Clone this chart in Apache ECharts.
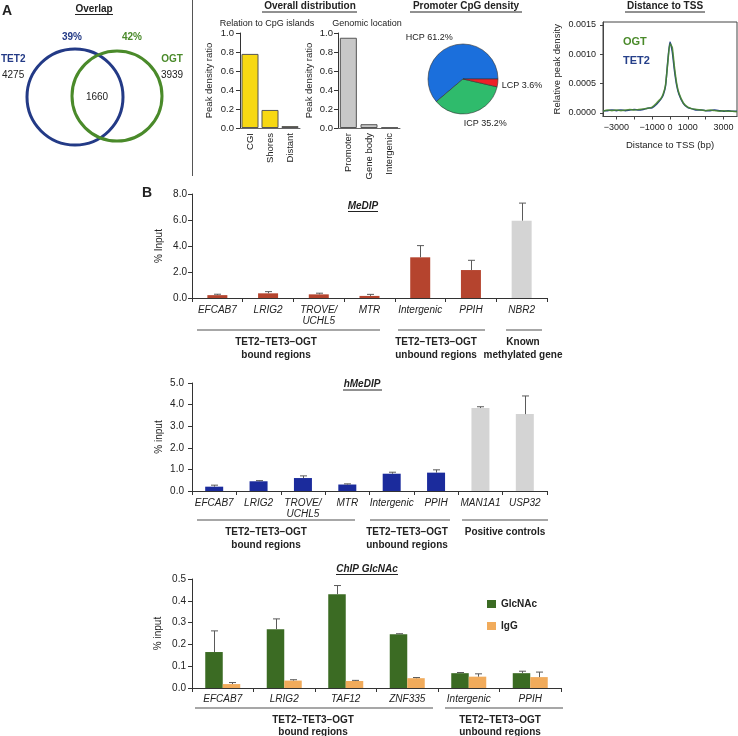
<!DOCTYPE html>
<html><head><meta charset="utf-8">
<script src="https://cdn.jsdelivr.net/npm/echarts@6/dist/echarts.min.js"></script>
<style>html,body{margin:0;padding:0;background:#fff}#c{width:738px;height:736px}</style>
</head><body><div id="c"></div>
<script>
// ---------------- DATA ----------------
const vennTET2Only = 4275, vennOGTOnly = 3939, vennShared = 1660;
const vennTET2Pct = '39%', vennOGTPct = '42%';

const cpgCats = ['CGI', 'Shores', 'Distant'];
const cpgVals = [0.78, 0.19, 0.02];
const genoCats = ['Promoter', 'Gene body', 'Intergenic'];
const genoVals = [0.95, 0.04, 0.005];

const promoterNames = ['HCP', 'ICP', 'LCP'];
const promoterVals = [61.2, 35.2, 3.6];

const tssX    = [-3750,-3500,-3250,-3000,-2750,-2500,-2250,-2000,-1750,-1500,-1250,-1000,-750,-500,-375,-250,-125,0,125,250,375,500,750,1000,1250,1500,1750,2000,2250,2500,2750,3000,3250,3500,3750];
const tssOGT  = [0.00003,0.00005,0.00004,0.00005,0.00004,0.00005,0.00006,0.00005,0.00006,0.00007,0.00008,0.0001,0.00017,0.00025,0.00033,0.00048,0.00085,0.00118,0.00112,0.00078,0.0005,0.00034,0.00017,0.0001,0.00007,0.00006,0.00005,0.00004,0.00005,0.00004,0.00003,0.00004,0.00003,0.00003,0.00002];
const tssTET2 = [0.00004,0.00004,0.00005,0.00004,0.00005,0.00004,0.00005,0.00006,0.00005,0.00006,0.00008,0.00009,0.00015,0.00024,0.00031,0.00046,0.00088,0.00121,0.00105,0.00072,0.00047,0.00032,0.00016,0.00009,0.00007,0.00005,0.00005,0.00004,0.00004,0.00005,0.00004,0.00003,0.00004,0.00003,0.00003];
const tssXTicks = [-3000,-2000,-1000,0,1000,2000,3000];
const tssXLabels = [-3000,-1000,0,1000,3000];
const tssYLabels = [0,0.0005,0.001,0.0015];

const medipCats  = ['EFCAB7','LRIG2','TROVE/\nUCHL5','MTR','Intergenic','PPIH','NBR2'];
const medipVals  = [0.22,0.36,0.28,0.16,3.13,2.15,5.95];
const medipUpper = [0.29,0.49,0.37,0.28,4.03,2.9,7.3];
const medipGroupOf = [0,0,0,0,1,1,2];
const medipGroupNames = ['TET2–TET3–OGT\nbound regions','TET2–TET3–OGT\nunbound regions','Known\nmethylated gene'];

const hmedipCats  = ['EFCAB7','LRIG2','TROVE/\nUCHL5','MTR','Intergenic','PPIH','MAN1A1','USP32'];
const hmedipVals  = [0.2,0.45,0.6,0.3,0.8,0.85,3.84,3.56];
const hmedipUpper = [0.27,0.48,0.7,0.33,0.87,0.98,3.9,4.4];
const hmedipGroupOf = [0,0,0,0,1,1,2,2];
const hmedipGroupNames = ['TET2–TET3–OGT\nbound regions','TET2–TET3–OGT\nunbound regions','Positive controls'];

const glcCats = ['EFCAB7','LRIG2','TAF12','ZNF335','Intergenic','PPIH'];
const glcVals  = [0.165,0.27,0.43,0.247,0.068,0.068];
const glcUpper = [0.262,0.317,0.47,0.249,0.071,0.077];
const iggVals  = [0.018,0.034,0.032,0.045,0.052,0.05];
const iggUpper = [0.025,0.038,0.035,0.048,0.065,0.073];
const glcGroupNames = ['TET2–TET3–OGT\nbound regions','TET2–TET3–OGT\nunbound regions'];

// ---------------- STYLE / LAYOUT ----------------
const FONT = '"Liberation Sans", Arial, Helvetica, sans-serif';
const C = {blue:'#233a86', green:'#4a8a2a', text:'#222', axis:'#333',
  yellow:'#f7d812', grey:'#c8c8c8', lightgrey:'#d4d4d4',
  medip:'#b5442e', hmedip:'#1b2b9c', glc:'#3b6b23', igg:'#f1ab5b',
  hcp:'#1b6fdc', icp:'#2fbb6c', lcp:'#ee2028', ogt:'#4a8a2a', tet2:'#26408a'};
const pieLabelShift = [[11,-3],[-16,5],[-9,2]]; // HCP, ICP, LCP label nudges (px)

function txt(text, x, y, o) {
  o = o || {};
  return {type:'text', silent:true, z:100, style:{text:String(text), x, y, fill:o.color||C.text,
    font:(o.italic?'italic ':'')+(o.bold?'bold ':'')+(o.size||10)+'px '+FONT,
    textAlign:o.align||'center', textVerticalAlign:o.valign||'middle'}};
}
function ln(x1,y1,x2,y2,o) {
  o = o || {};
  return {type:'line', silent:true, z:100, shape:{x1,y1,x2,y2}, style:{stroke:o.color||C.text, lineWidth:o.w||1}};
}
function groupMarks(names, lineY, spans, centers, lh) {
  const out = [];
  names.forEach((n, i) => {
    out.push(ln(spans[i][0], lineY, spans[i][1], lineY, {color:'#8a8a8a', w:1.5}));
    n.split('\n').forEach((s, j) => out.push(txt(s, centers[i], lineY + 12 + j*lh, {bold:true, size:10})));
  });
  return out;
}

const graphics = [
  txt('A', 2, 4, {bold:true, size:14, align:'left', valign:'top'}),
  txt('Overlap', 94, 9, {bold:true}), ln(75, 14.5, 113, 14.5),
  {type:'circle', silent:true, shape:{cx:75, cy:97, r:48}, style:{fill:'none', stroke:C.blue, lineWidth:3}},
  {type:'circle', silent:true, shape:{cx:117, cy:96, r:45}, style:{fill:'none', stroke:C.green, lineWidth:3}},
  txt(vennTET2Pct, 72, 37, {bold:true, color:C.blue}),
  txt(vennOGTPct, 132, 37, {bold:true, color:C.green}),
  txt('TET2', 1, 59, {bold:true, color:C.blue, align:'left'}),
  txt(vennTET2Only, 2, 75, {align:'left'}),
  txt('OGT', 172, 59, {bold:true, color:C.green}),
  txt(vennOGTOnly, 172, 75),
  txt(vennShared, 97, 97),
  ln(192.5, 0, 192.5, 176, {color:'#555'}),
  txt('Overall distribution', 310, 6.5, {bold:true}), ln(262, 12, 357, 12),
  txt('Relation to CpG islands', 267, 24, {size:9}),
  txt('Genomic location', 367, 24, {size:9}),
  txt('Promoter CpG density', 466, 6.5, {bold:true}), ln(410, 12, 522, 12),
  txt('Distance to TSS', 665, 6.5, {bold:true}), ln(625, 12, 705, 12),
  txt('OGT', 623, 42, {bold:true, size:11, color:C.ogt, align:'left'}),
  txt('TET2', 623, 61, {bold:true, size:11, color:C.tet2, align:'left'}),
  txt('B', 142, 186, {bold:true, size:14, align:'left', valign:'top'}),
  txt('MeDIP', 363, 206, {bold:true, italic:true}), ln(348, 211.5, 378, 211.5),
  txt('hMeDIP', 362, 384, {bold:true, italic:true}), ln(343, 390, 382, 390),
  txt('ChIP GlcNAc', 367, 569, {bold:true, italic:true}), ln(336, 574.5, 398, 574.5),
].concat(
  groupMarks(medipGroupNames, 330, [[197,380],[398,485],[506,542]], [276,436,523], 13),
  groupMarks(hmedipGroupNames, 520, [[197,355],[370,450],[462,548]], [266,407,505], 13),
  groupMarks(glcGroupNames, 708, [[195,433],[445,563]], [313,500], 12)
);

function catAxis(gi, data, o) {
  o = o || {};
  return {type:'category', gridIndex:gi, data,
    axisLine:{show:true, lineStyle:{color:o.lineColor||C.axis}},
    axisTick:{show:o.tick!==false, length:4, lineStyle:{color:C.axis}},
    axisLabel:{fontFamily:FONT, fontSize:o.size||10, fontStyle:o.italic===false?'normal':'italic', color:C.text,
      margin:o.margin||6, interval:0, rotate:o.rotate||0, lineHeight:11}};
}
function valAxis(gi, min, max, interval, o) {
  o = o || {};
  return {type:'value', gridIndex:gi, min, max, interval, name:o.name, nameLocation:'middle', nameGap:o.nameGap,
    nameTextStyle:{fontFamily:FONT, fontSize:o.nameSize||10, color:C.text},
    axisLine:{show:true, lineStyle:{color:C.axis}},
    axisTick:{show:true, length:4, lineStyle:{color:C.axis}},
    splitLine:{show:false},
    axisLabel:{fontFamily:FONT, fontSize:o.size||10, color:C.text, margin:o.margin||6,
      formatter:v => v.toFixed(o.dec == null ? 1 : o.dec)}};
}
function errSeries(xi, cats, upper, vals, offset) {
  return {type:'custom', xAxisIndex:xi, yAxisIndex:xi, z:5, silent:true,
    data:cats.map((c, i) => [i, vals[i], upper[i]]),
    encode:{x:0, y:[1,2]},
    renderItem:(params, api) => {
      const p0 = api.coord([api.value(0), api.value(1)]);
      const p1 = api.coord([api.value(0), api.value(2)]);
      const x = Math.round(p0[0] + offset) + 0.5;
      return {type:'group', children:[
        {type:'line', shape:{x1:x, y1:p0[1], x2:x, y2:p1[1]}, style:{stroke:'#5a5a5a', lineWidth:1}},
        {type:'line', shape:{x1:x-3.5, y1:p1[1], x2:x+3.5, y2:p1[1]}, style:{stroke:'#5a5a5a', lineWidth:1}}]};
    }};
}

const medipColors = [C.medip, C.medip, C.lightgrey];
const hmedipColors = [C.hmedip, C.hmedip, C.lightgrey];

const option = {
  animation:false,
  textStyle:{fontFamily:FONT},
  grid:[
    {left:240, top:33, width:60, height:95},
    {left:338, top:33, width:62, height:95},
    {left:603, top:22, width:134, height:94.5, show:true, borderColor:'#444', borderWidth:1},
    {left:192, top:194, width:355, height:104},
    {left:192, top:383, width:355, height:108},
    {left:192, top:579, width:369, height:109}
  ],
  xAxis:[
    catAxis(0, cpgCats, {rotate:90, italic:false, size:9.5, tick:false, margin:5, lineColor:'#666'}),
    catAxis(1, genoCats, {rotate:90, italic:false, size:9.5, tick:false, margin:5, lineColor:'#666'}),
    {type:'value', gridIndex:2, min:-3750, max:3750, name:'Distance to TSS (bp)', nameLocation:'middle', nameGap:24,
      nameTextStyle:{fontFamily:FONT, fontSize:9.5, color:C.text},
      axisLine:{show:true, onZero:false, lineStyle:{color:'#444'}},
      axisTick:{show:true, length:3, customValues:tssXTicks, lineStyle:{color:'#444'}},
      splitLine:{show:false},
      axisLabel:{fontFamily:FONT, fontSize:9, color:C.text, margin:7, customValues:tssXLabels,
        formatter:v => (v < 0 ? '\u2212' : '') + Math.abs(v)}},
    catAxis(3, medipCats, {margin:7}),
    catAxis(4, hmedipCats, {margin:7}),
    catAxis(5, glcCats, {margin:6})
  ],
  yAxis:[
    valAxis(0, 0, 1, 0.2, {name:'Peak density ratio', nameGap:26, nameSize:9.5, size:9.5, margin:6}),
    valAxis(1, 0, 1, 0.2, {name:'Peak density ratio', nameGap:24, nameSize:9.5, size:9.5, margin:5}),
    {type:'value', gridIndex:2, min:-0.00006, max:0.00155, name:'Relative peak density', nameLocation:'middle', nameGap:41,
      nameTextStyle:{fontFamily:FONT, fontSize:9.5, color:C.text},
      axisLine:{show:true, onZero:false, lineStyle:{color:'#444'}},
      axisTick:{show:true, length:3, customValues:tssYLabels, lineStyle:{color:'#444'}},
      splitLine:{show:false},
      axisLabel:{fontFamily:FONT, fontSize:9, color:C.text, margin:7, customValues:tssYLabels,
        formatter:v => v.toFixed(4)}},
    valAxis(3, 0, 8, 2, {name:'% Input', nameGap:28, margin:5}),
    valAxis(4, 0, 5, 1, {name:'% input', nameGap:28, margin:8}),
    valAxis(5, 0, 0.5, 0.1, {name:'% input', nameGap:29, margin:6})
  ],
  legend:{data:['GlcNAc','IgG'], left:482, top:594, orient:'vertical', itemWidth:9, itemHeight:8, itemGap:12,
    textStyle:{fontFamily:FONT, fontSize:10, fontWeight:'bold', color:C.text}, icon:'rect', selectedMode:false},
  graphic:graphics,
  series:[
    {type:'bar', xAxisIndex:0, yAxisIndex:0, data:cpgVals, barWidth:17, silent:true,
      itemStyle:{color:C.yellow, borderColor:'#555', borderWidth:1}},
    {type:'bar', xAxisIndex:1, yAxisIndex:1, data:genoVals, barWidth:17, silent:true,
      itemStyle:{color:C.grey, borderColor:'#555', borderWidth:1}},
    {type:'pie', center:[463,79], radius:35, startAngle:0, clockwise:false, silent:true, avoidLabelOverlap:false,
      data:promoterNames.map((n, i) => ({name:n, value:promoterVals[i]})),
      color:[C.hcp, C.icp, C.lcp],
      itemStyle:{borderColor:'#333', borderWidth:0.6},
      label:{show:true, position:'outside', formatter:'{b} {c}%', fontFamily:FONT, fontSize:9, color:C.text},
      labelLine:{show:false, length:6, length2:2},
      labelLayout:p => ({dx:pieLabelShift[p.dataIndex][0], dy:pieLabelShift[p.dataIndex][1]})},
    {type:'line', name:'TET2', xAxisIndex:2, yAxisIndex:2, data:tssX.map((x, i) => [x, tssTET2[i]]),
      showSymbol:false, smooth:0.2, silent:true, lineStyle:{color:C.tet2, width:1.5}},
    {type:'line', name:'OGT', xAxisIndex:2, yAxisIndex:2, data:tssX.map((x, i) => [x, tssOGT[i]]),
      showSymbol:false, smooth:0.2, silent:true, lineStyle:{color:C.ogt, width:1.5, opacity:0.85}},
    {type:'bar', xAxisIndex:3, yAxisIndex:3, barWidth:20, silent:true,
      data:medipVals.map((v, i) => ({value:v, itemStyle:{color:medipColors[medipGroupOf[i]]}}))},
    errSeries(3, medipCats, medipUpper, medipVals, 0),
    {type:'bar', xAxisIndex:4, yAxisIndex:4, barWidth:18, silent:true,
      data:hmedipVals.map((v, i) => ({value:v, itemStyle:{color:hmedipColors[hmedipGroupOf[i]]}}))},
    errSeries(4, hmedipCats, hmedipUpper, hmedipVals, 0),
    {type:'bar', name:'GlcNAc', xAxisIndex:5, yAxisIndex:5, barWidth:17.5, barGap:'0%', silent:true,
      data:glcVals, itemStyle:{color:C.glc}},
    {type:'bar', name:'IgG', xAxisIndex:5, yAxisIndex:5, barWidth:17.5, barGap:'0%', silent:true,
      data:iggVals, itemStyle:{color:C.igg}},
    errSeries(5, glcCats, glcUpper, glcVals, -8.75),
    errSeries(5, glcCats, iggUpper, iggVals, 8.75)
  ]
};
const chart = echarts.init(document.getElementById('c'));
chart.setOption(option);
</script>
</body></html>
